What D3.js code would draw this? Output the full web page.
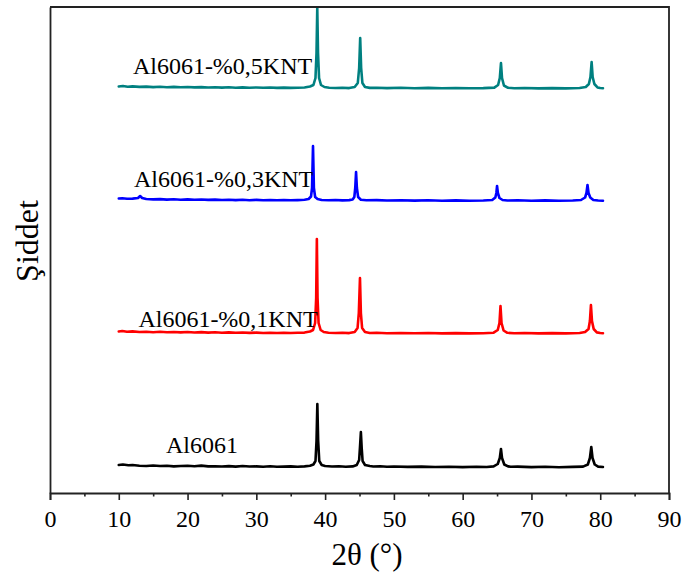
<!DOCTYPE html>
<html>
<head>
<meta charset="utf-8">
<script src="https://cdn.jsdelivr.net/npm/d3@7"></script>
<style>
  html, body { margin: 0; padding: 0; background: #fff; }
  svg { display: block; }
</style>
</head>
<body>
<svg id="chart" width="684" height="573"></svg>
<script>
// ---- data (2θ in degrees, intensity in arbitrary units incl. stacking offset) ----
const xTicks = [0, 10, 20, 30, 40, 50, 60, 70, 80, 90];
const xMinorTicks = [5, 15, 25, 35, 45, 55, 65, 75, 85];
const seriesNames = ["Al6061", "Al6061-%0,1KNT", "Al6061-%0,3KNT", "Al6061-%0,5KNT"];
const seriesColors = ["#000000", "#ff0000", "#0000ff", "#008080"];

const al6061 = [
  [10.0,28],[10.6,28.5],[11.4,27.8],[12,28],[13,27.2],[14,27],[15,27.5],[16,27],[17,27.3],[18,26.6],[19,27],[20,27.2],[21,26.7],[22,27.4],[23,26.6],[24,26.8],[25,26.5],[26,26.9],[27,26.4],[28,27],[29,26.5],[30,26.6],[31,26.3],[32,26.7],[33,26.2],[34,26.4],[35,26.6],[36,26.3],[37,26.6],[37.8,27.2],[38.3,28.5],[38.6,32],[38.75,52],[38.87,89],[38.99,52],[39.15,32],[39.5,28],[40,27],[41,26.5],[42,26.8],[43,26.3],[44,26.6],[44.6,28],[44.95,33],[45.08,47],[45.2,61],[45.32,45],[45.45,32],[45.8,28],[46.5,27],[47,26.5],[48,26.8],[49,26.2],[50,26.5],[52,26.1],[54,26.4],[56,26],[58,26.3],[60,25.9],[62,26.2],[63.5,26],[64.5,26.6],[65.1,29],[65.4,35],[65.57,44],[65.72,35],[66.05,28.5],[66.6,26.6],[67,26.2],[68,26.4],[70,25.9],[72,26.2],[74,25.8],[76,26.1],[77.5,26.4],[78.2,28.5],[78.5,35],[78.7,46],[78.88,35],[79.2,28.5],[79.7,26.4],[80.4,26]
];
const al6061_01 = [
  [10.0,161.5],[10.5,162],[11.2,161.2],[12,161.6],[13,161],[14,161.3],[15,160.8],[16,161.2],[17,160.7],[18,161],[19,160.6],[20,161],[21,160.5],[22,160.9],[23,160.4],[24,160.7],[25,160.3],[26,160.6],[27,160.2],[28,160.5],[29,160.1],[30,160.4],[31,160],[32,160.3],[33,160],[34,160.3],[35,160],[36,160.2],[37,160.4],[37.8,161.5],[38.25,163],[38.55,170],[38.7,195],[38.8,254],[38.9,195],[39.05,170],[39.35,163],[39.8,161],[40.5,160.3],[41.5,160],[42.5,160.2],[43.5,159.9],[44.3,161],[44.72,165],[44.9,180],[45.07,215],[45.2,180],[45.38,165],[45.8,161],[46.5,160],[47.5,160.2],[49,159.8],[51,160],[53,159.7],[55,160],[57,159.6],[59,159.9],[61,159.6],[63,159.8],[64.5,160.3],[65.1,163],[65.35,170],[65.5,187],[65.65,170],[65.95,162.5],[66.5,160.2],[67.5,159.8],[69,160],[71,159.6],[73,159.9],[75,159.6],[77,160],[77.8,161],[78.3,164],[78.5,172],[78.65,188],[78.8,172],[79.05,164],[79.5,160.6],[80,160],[80.4,159.8]
];
const al6061_03 = [
  [10.0,294.5],[10.5,294.8],[11.2,294.2],[12,294.4],[12.8,295],[13.1,297],[13.4,295],[14,294],[15,293.6],[16,293.9],[17,293.4],[18,293.7],[19,293.3],[20,293.6],[21,293.2],[22,293.5],[23,293.1],[24,293.4],[25,293],[26,293.3],[27,292.9],[28,293.2],[29,292.8],[30,293.1],[31,292.8],[32,293],[33,292.7],[34,293],[35,292.7],[36,292.9],[37,293.2],[37.6,294],[37.95,296.5],[38.1,305],[38.24,347],[38.37,305],[38.55,296],[38.9,294],[39.5,293],[40.5,292.7],[41.5,293],[42.5,292.6],[43.5,292.9],[44,293.5],[44.25,296],[44.38,305],[44.5,321],[44.62,305],[44.8,296],[45.2,293.3],[46,292.7],[47.5,292.9],[49,292.5],[51,292.8],[53,292.4],[55,292.7],[57,292.3],[59,292.6],[61,292.3],[63,292.5],[64.3,293],[64.75,295.5],[64.9,300],[65.0,307],[65.12,300],[65.35,295],[65.8,293],[66.5,292.5],[68,292.7],[70,292.3],[72,292.6],[74,292.2],[76,292.5],[77.2,293],[77.8,295.5],[78.0,300],[78.15,308],[78.3,300],[78.55,295.5],[79,293],[79.7,292.5],[80.4,292.3]
];
const al6061_05 = [
  [10.0,406.5],[10.6,407],[11.3,406.3],[12,406.6],[13,406.1],[14,406.4],[15,405.9],[16,406.3],[17,405.8],[18,406.1],[19,405.7],[20,406],[21,405.6],[22,405.9],[23,405.5],[24,405.8],[25,405.4],[26,405.7],[27,405.3],[28,405.6],[29,405.3],[30,405.5],[31,405.2],[32,405.5],[33,405.1],[34,405.4],[35,405.1],[36,405.3],[37,405.5],[37.8,406.5],[38.3,408],[38.6,415],[38.75,440],[38.86,485],[38.97,440],[39.12,415],[39.4,408],[39.9,406],[40.6,405.3],[41.5,405],[42.5,405.3],[43.5,404.9],[44.3,406],[44.75,410],[44.95,425],[45.1,455],[45.24,425],[45.42,410],[45.8,406],[46.5,405.1],[47.5,405.3],[49,404.9],[51,405.2],[53,404.8],[55,405.1],[57,404.7],[59,405],[61,404.7],[63,404.9],[64.6,405.4],[65.15,408],[65.4,415],[65.57,430],[65.72,415],[66.0,407.5],[66.6,405.2],[67.5,404.8],[69,405],[71,404.6],[73,404.9],[75,404.6],[77,405],[77.9,406],[78.35,409],[78.58,416],[78.75,431],[78.9,416],[79.15,409],[79.6,405.6],[80,405],[80.4,404.8]
];
const seriesData = [al6061, al6061_01, al6061_03, al6061_05];

// ---- layout ----
const mLeft = 50, mRight = 669, mTop = 7, mBottom = 493;
const svg = d3.select("#chart");
const font = "'Liberation Serif', 'Times New Roman', serif";

const x = d3.scaleLinear().domain([0, 90]).range([mLeft, mRight]);
const y = d3.scaleLinear().domain([0, 486]).range([mBottom, mTop]);

// series lines
const line = d3.line().x(d => x(d[0])).y(d => y(d[1])).curve(d3.curveLinear);
svg.append("g").selectAll("path")
  .data(seriesData)
  .join("path")
  .attr("d", d => line(d))
  .attr("fill", "none")
  .attr("stroke", (d, i) => seriesColors[i])
  .attr("stroke-width", 2.6)
  .attr("stroke-linejoin", "round")
  .attr("stroke-linecap", "round");

// series labels (position in data coordinates)
const labelPos = [[16.85, 40], [12.85, 166], [12.2, 306], [12.05, 419.5]];
svg.append("g").selectAll("text")
  .data(seriesNames)
  .join("text")
  .attr("x", (d, i) => x(labelPos[i][0]))
  .attr("y", (d, i) => y(labelPos[i][1]))
  .attr("font-family", font)
  .attr("font-size", 24)
  .attr("fill", "#000")
  .text(d => d);

// frame (top + right)
svg.append("path")
  .attr("d", `M${mLeft},${mTop}H${mRight}V${mBottom}`)
  .attr("fill", "none")
  .attr("stroke", "#222")
  .attr("stroke-width", 1.8);

// x axis
const xAxis = d3.axisBottom(x).tickValues(xTicks).tickSize(7).tickPadding(10).tickFormat(d3.format("d"));
const gx = svg.append("g").attr("transform", `translate(0,${mBottom})`).call(xAxis);
gx.select(".domain").attr("stroke", "#222").attr("stroke-width", 1.8);
gx.selectAll(".tick line").attr("stroke", "#222").attr("stroke-width", 1.6);
gx.selectAll(".tick text").attr("font-family", font).attr("font-size", 24).attr("fill", "#000");

const xMinor = d3.axisBottom(x).tickValues(xMinorTicks).tickSize(3.5).tickFormat("");
const gxm = svg.append("g").attr("transform", `translate(0,${mBottom})`).call(xMinor);
gxm.select(".domain").remove();
gxm.selectAll(".tick line").attr("stroke", "#222").attr("stroke-width", 1.6);

// y axis (no ticks)
const yAxis = d3.axisLeft(y).tickValues([]).tickSizeOuter(0);
const gy = svg.append("g").attr("transform", `translate(${mLeft},0)`).call(yAxis);
gy.select(".domain").attr("stroke", "#222").attr("stroke-width", 1.8);

// titles
svg.append("text")
  .attr("x", 367).attr("y", 565)
  .attr("text-anchor", "middle")
  .attr("font-family", font).attr("font-size", 31)
  .text("2θ (°)");

svg.append("text")
  .attr("transform", "translate(38,241) rotate(-90)")
  .attr("text-anchor", "middle")
  .attr("font-family", font).attr("font-size", 32)
  .text("Şiddet");
</script>
</body>
</html>
